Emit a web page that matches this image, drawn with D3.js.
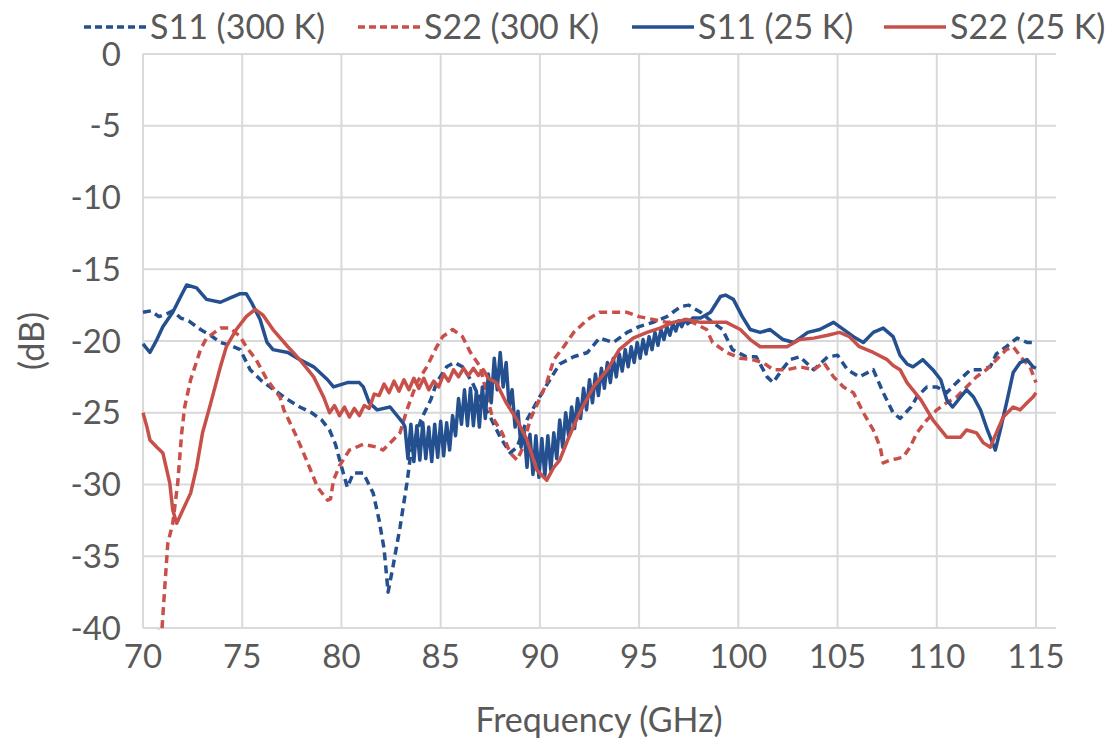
<!DOCTYPE html>
<html>
<head>
<meta charset="utf-8">
<script src="https://cdn.jsdelivr.net/npm/d3@7"></script>
<style>
  body { margin: 0; background: #fff; }
  svg text { font-family: Lato, "Open Sans", sans-serif; fill: #595959; }
</style>
</head>
<body>
<svg width="1110" height="747"></svg>
<script>
// ticks
var xTicks = [70, 75, 80, 85, 90, 95, 100, 105, 110, 115];
var yTicks = [0, -5, -10, -15, -20, -25, -30, -35, -40];

// series names
var seriesNames = ["S11 (300 K)", "S22 (300 K)", "S11 (25 K)", "S22 (25 K)"];

// [frequency GHz, dB]
var s11_300 = [[70,-18.0],[70.4,-17.9],[70.8,-18.3],[71.2,-18.1],[71.5,-17.9],[71.9,-18.4],[72.3,-18.6],[72.6,-18.9],
  [72.9,-19.2],[73.4,-19.6],[73.9,-20.1],[74.4,-20.3],[74.9,-20.6],[75.4,-22.0],[76.0,-22.8],[76.6,-23.4],
  [77.2,-24.0],[77.9,-24.6],[78.5,-25.0],[79.0,-25.5],[79.4,-26.2],[79.7,-27.2],[79.95,-28.5],[80.3,-30.2],
  [80.6,-29.2],[81.1,-29.2],[81.6,-30.6],[81.9,-32.5],[82.15,-34.5],[82.35,-37.5],[82.6,-35.7],[82.95,-33.0],
  [83.3,-29.9],[83.5,-27.8],[84.0,-25.5],[84.5,-24.1],[84.8,-22.9],[85.3,-21.8],[85.7,-21.5],[86.1,-21.8],
  [86.6,-22.9],[87.0,-24.1],[87.5,-25.3],[88.0,-26.7],[88.5,-27.8],[88.85,-27.4],[89.35,-25.5],[89.9,-24.1],
  [90.5,-22.7],[91.0,-21.6],[91.7,-21.1],[92.4,-20.8],[93.0,-19.8],[93.7,-20.1],[94.4,-19.4],[95.0,-19.0],
  [95.7,-18.7],[96.4,-18.3],[97.1,-17.6],[97.5,-17.5],[98.1,-18.0],[98.7,-18.7],[99.2,-19.2],[99.7,-20.6],
  [100.4,-21.1],[100.9,-21.1],[101.45,-22.5],[101.75,-22.9],[102.2,-22.0],[102.6,-21.3],[103.1,-21.1],
  [103.8,-22.0],[104.5,-21.1],[105.0,-21.0],[105.5,-22.0],[106.1,-22.5],[106.8,-22.0],[107.3,-23.6],
  [107.8,-25.0],[108.15,-25.4],[108.7,-24.6],[109.0,-23.9],[109.5,-23.2],[110.0,-23.2],[110.5,-23.6],
  [111.0,-22.9],[111.7,-22.0],[112.2,-22.0],[112.7,-21.8],[113.0,-20.9],[113.5,-20.4],[114.05,-19.8],
  [114.55,-20.1],[115.0,-20.1]];

var s22_300 = [[70,-41],[70.5,-40.3],[70.95,-40.2],[71.1,-37.1],[71.25,-34.1],[71.5,-32.7],[71.75,-29.9],
  [71.95,-26.4],[72.1,-24.6],[72.4,-22.7],[72.9,-20.6],[73.2,-19.8],[73.9,-19.1],[74.4,-19.1],[74.9,-19.7],
  [75.2,-20.4],[75.7,-21.3],[76.25,-22.7],[76.9,-23.9],[77.1,-24.8],[77.75,-26.7],[78.3,-28.5],[78.8,-30.2],
  [79.3,-31.1],[79.45,-31.0],[79.6,-29.7],[79.9,-28.7],[80.4,-27.6],[81.1,-27.2],[81.8,-27.4],[82.1,-27.6],
  [82.6,-26.9],[82.95,-26.4],[83.3,-24.8],[83.8,-22.9],[84.3,-21.8],[84.8,-20.4],[85.1,-19.7],[85.6,-19.2],
  [86.1,-19.7],[86.5,-20.8],[87.0,-21.8],[87.3,-23.6],[87.6,-25.3],[88.1,-26.4],[88.5,-27.8],[88.85,-28.3],
  [89.15,-27.4],[89.5,-25.5],[90.0,-24.0],[90.35,-22.9],[90.7,-21.3],[91.2,-20.4],[91.7,-19.4],[92.4,-18.5],
  [93.0,-18.0],[93.7,-18.0],[94.4,-18.0],[95.0,-18.3],[95.7,-18.5],[96.4,-18.7],[97.1,-18.7],[97.7,-18.7],
  [98.4,-19.2],[98.7,-20.1],[99.4,-20.8],[100.1,-21.2],[100.7,-21.3],[101.25,-21.5],[101.75,-22.0],
  [102.45,-22.0],[103.1,-21.8],[103.8,-22.0],[104.3,-21.5],[104.8,-22.5],[105.3,-23.2],[105.8,-23.6],
  [106.3,-25.0],[106.8,-26.2],[107.15,-27.4],[107.3,-28.5],[107.65,-28.3],[108.0,-28.2],[108.3,-28.1],
  [108.65,-27.4],[109.0,-26.4],[109.5,-25.5],[110.0,-24.8],[110.5,-24.3],[111.0,-23.9],[111.5,-23.2],
  [112.0,-22.5],[112.5,-22.0],[113.0,-21.3],[113.5,-20.6],[113.85,-20.4],[114.35,-21.3],[114.7,-21.8],
  [115.0,-22.9]];

var s11_25 = [[70,-20.2],[70.35,-20.8],[70.7,-19.9],[71.0,-19.0],[71.5,-18.0],[71.9,-16.9],[72.2,-16.1],
  [72.7,-16.3],[73.2,-17.1],[73.9,-17.3],[74.4,-17.0],[74.9,-16.7],[75.2,-16.7],[75.5,-17.4],[75.9,-18.5],
  [76.25,-20.1],[76.55,-20.6],[77.3,-20.8],[77.9,-21.3],[78.6,-21.8],[79.3,-22.7],[79.6,-23.2],[80.3,-22.9],
  [80.9,-22.9],[81.1,-23.2],[81.4,-24.3],[81.8,-24.8],[82.45,-24.6],[83.1,-25.7],
  // ripple section
  [83.2,-26.0],[83.35,-28.2],[83.5,-25.8],[83.65,-28.4],[83.8,-25.9],[83.95,-28.3],[84.1,-25.7],[84.25,-28.2],
  [84.4,-26.0],[84.55,-28.4],[84.7,-25.8],[84.85,-28.1],[85.0,-25.6],[85.15,-28.0],[85.3,-25.7],[85.45,-27.6],
  [85.6,-25.2],[85.75,-26.6],[85.9,-24.0],[86.05,-25.8],[86.2,-23.4],[86.35,-25.9],[86.5,-23.3],[86.65,-25.9],
  [86.8,-23.5],[86.95,-26.0],[87.1,-23.2],[87.25,-25.4],[87.4,-22.3],[87.55,-24.3],[87.7,-21.2],[87.85,-23.4],
  [88.0,-20.8],[88.15,-23.2],[88.3,-21.5],[88.45,-24.6],[88.6,-23.4],[88.75,-26.0],[88.9,-24.9],[89.05,-27.4],
  [89.2,-26.2],[89.35,-28.8],[89.5,-26.5],[89.65,-29.3],[89.8,-26.6],[89.95,-29.5],[90.1,-26.8],[90.25,-29.4],
  [90.4,-26.6],[90.55,-29.0],[90.7,-26.4],[90.85,-28.2],[91.0,-25.5],[91.15,-27.4],[91.3,-25.0],[91.45,-26.6],
  [91.6,-24.6],[91.75,-26.1],[91.9,-24.0],[92.05,-25.4],[92.2,-23.3],[92.35,-24.8],[92.5,-22.7],[92.65,-24.3],
  [92.8,-22.3],[92.95,-23.8],[93.1,-21.9],[93.25,-23.3],[93.4,-21.5],[93.55,-22.9],[93.7,-21.2],[93.85,-22.5],
  [94.0,-20.9],[94.15,-22.1],[94.3,-20.6],[94.45,-21.8],[94.6,-20.4],[94.75,-21.5],[94.9,-20.1],[95.05,-21.2],
  [95.2,-19.9],[95.35,-20.9],[95.5,-19.7],[95.65,-20.6],[95.8,-19.4],[95.95,-20.3],[96.1,-19.2],[96.25,-19.9],
  [96.4,-19.0],[96.55,-19.6],[96.7,-18.8],[96.85,-19.3],[97.0,-18.6],[97.15,-19.0],[97.3,-18.5],[97.45,-18.8],
  [97.7,-18.4],[98.1,-18.4],[98.6,-18.0],[99.1,-16.9],[99.35,-16.8],[99.75,-17.1],[100.2,-18.3],[100.6,-19.2],
  [101.1,-19.4],[101.6,-19.2],[102.25,-19.9],[102.8,-20.1],[103.5,-19.4],[104.1,-19.2],[104.8,-18.7],
  [105.1,-19.0],[105.8,-19.7],[106.3,-20.1],[106.8,-19.4],[107.3,-19.1],[107.8,-19.7],[108.15,-21.0],
  [108.5,-21.6],[108.8,-21.8],[109.3,-21.3],[109.8,-22.0],[110.2,-22.7],[110.5,-24.1],[110.8,-24.6],
  [111.2,-23.9],[111.5,-23.4],[111.85,-23.9],[112.2,-24.8],[112.55,-26.2],[112.95,-27.6],[113.2,-26.2],
  [113.55,-24.1],[113.85,-22.2],[114.2,-21.5],[114.55,-21.3],[114.85,-21.8],[115.0,-21.9]];

var s22_25 = [[70,-25.0],[70.2,-26.0],[70.35,-26.9],[70.7,-27.4],[71.0,-27.8],[71.35,-29.9],[71.5,-31.8],
  [71.7,-32.7],[72.0,-31.8],[72.4,-30.6],[72.7,-28.8],[73.0,-26.4],[73.4,-24.4],[73.9,-21.8],[74.2,-20.4],
  [74.7,-19.2],[75.2,-18.3],[75.65,-17.8],[76.05,-18.2],[76.55,-19.2],[77.3,-20.4],[77.9,-21.3],[78.6,-22.5],
  [79.1,-23.9],[79.4,-25.0],[79.65,-24.5],[79.9,-25.2],[80.15,-24.6],[80.4,-25.3],[80.65,-24.7],[80.9,-25.2],
  [81.15,-24.5],[81.4,-24.7],[81.65,-23.7],[81.9,-23.8],[82.15,-23.0],[82.4,-23.6],[82.65,-22.8],[82.9,-23.5],
  [83.15,-22.7],[83.4,-23.4],[83.65,-22.6],[83.9,-23.3],[84.15,-22.6],[84.4,-23.4],[84.65,-22.8],[84.9,-23.2],
  [85.15,-22.3],[85.4,-22.8],[85.65,-22.0],[85.9,-22.5],[86.15,-21.9],[86.4,-22.4],[86.65,-21.9],[86.9,-22.4],
  [87.15,-22.0],[87.4,-22.6],[87.8,-22.9],[88.3,-24.3],[88.85,-25.5],[89.35,-26.9],[89.85,-29.0],[90.35,-29.7],
  [90.7,-28.8],[91.0,-28.3],[91.4,-26.9],[92.0,-25.0],[92.7,-23.2],[93.4,-22.0],[94.0,-20.6],[94.7,-19.8],
  [95.4,-19.4],[96.05,-19.1],[96.7,-18.7],[97.4,-18.5],[98.1,-18.7],[98.7,-18.7],[99.4,-18.7],[100.1,-19.2],
  [100.6,-19.9],[101.1,-20.4],[101.75,-20.4],[102.45,-20.4],[103.1,-19.9],[103.8,-19.8],[104.5,-19.6],
  [105.1,-19.4],[105.6,-19.7],[106.1,-20.4],[106.8,-20.8],[107.5,-21.3],[107.8,-21.7],[108.15,-22.0],
  [108.5,-22.9],[109.2,-24.1],[109.8,-25.5],[110.5,-26.7],[111.2,-26.7],[111.5,-26.2],[112.0,-26.4],
  [112.35,-27.1],[112.7,-27.4],[113.0,-26.4],[113.35,-25.3],[113.85,-24.6],[114.2,-24.8],[114.55,-24.3],
  [114.85,-23.9],[115.0,-23.6]];

var blue = "#24508f", red = "#c8504a";

var series = [
  {name: seriesNames[0], data: s11_300, color: blue, dash: "8,5"},
  {name: seriesNames[1], data: s22_300, color: red, dash: "8,5"},
  {name: seriesNames[2], data: s11_25, color: blue, dash: null},
  {name: seriesNames[3], data: s22_25, color: red, dash: null}
];

var svg = d3.select("svg");
var plotLeft = 143, plotRight = 1056, plotTop = 54, plotBottom = 628;

var x = d3.scaleLinear().domain([70, 115]).range([143, 1036]);
var y = d3.scaleLinear().domain([-40, 0]).range([plotBottom, plotTop]);

// gridlines
svg.append("g")
  .selectAll("line")
  .data(yTicks)
  .enter().append("line")
    .attr("x1", plotLeft).attr("x2", plotRight)
    .attr("y1", function(d) { return y(d); })
    .attr("y2", function(d) { return y(d); })
    .attr("stroke", "#d9d9d9").attr("stroke-width", 2);

svg.append("g")
  .selectAll("line")
  .data(xTicks)
  .enter().append("line")
    .attr("x1", function(d) { return x(d); })
    .attr("x2", function(d) { return x(d); })
    .attr("y1", plotTop).attr("y2", plotBottom)
    .attr("stroke", "#d9d9d9").attr("stroke-width", 2);

// tick labels
svg.append("g")
  .selectAll("text")
  .data(yTicks)
  .enter().append("text")
    .attr("x", 121)
    .attr("y", function(d) { return y(d); })
    .attr("dy", "0.35em")
    .attr("text-anchor", "end")
    .attr("font-size", 33)
    .text(function(d) { return d; });

svg.append("g")
  .selectAll("text")
  .data(xTicks)
  .enter().append("text")
    .attr("x", function(d) { return x(d); })
    .attr("y", 656)
    .attr("dy", "0.35em")
    .attr("text-anchor", "middle")
    .attr("font-size", 33)
    .text(function(d) { return d; });

svg.append("text")
  .attr("x", 599).attr("y", 720)
  .attr("dy", "0.35em")
  .attr("text-anchor", "middle")
  .attr("font-size", 34)
  .text("Frequency (GHz)");

svg.append("text")
  .attr("transform", "translate(32,341) rotate(-90)")
  .attr("dy", "0.35em")
  .attr("text-anchor", "middle")
  .attr("font-size", 34)
  .text("(dB)");

// lines
svg.append("defs").append("clipPath").attr("id", "plotclip")
  .append("rect")
    .attr("x", plotLeft - 2).attr("y", plotTop - 4)
    .attr("width", plotRight - plotLeft + 4).attr("height", plotBottom - plotTop + 6);

var line = d3.line()
  .x(function(d) { return x(d[0]); })
  .y(function(d) { return y(d[1]); });

svg.append("g")
  .attr("clip-path", "url(#plotclip)")
  .selectAll("path")
  .data(series)
  .enter().append("path")
    .attr("d", function(d) { return line(d.data); })
    .attr("fill", "none")
    .attr("stroke", function(d) { return d.color; })
    .attr("stroke-width", 3.5)
    .attr("stroke-linejoin", "round")
    .attr("stroke-dasharray", function(d) { return d.dash; });

// legend
var legendX = [84, 358, 632, 884];
var legend = svg.append("g")
  .selectAll("g")
  .data(series)
  .enter().append("g")
    .attr("transform", function(d, i) { return "translate(" + legendX[i] + ",27)"; });

legend.append("line")
  .attr("x1", 0).attr("x2", 62)
  .attr("stroke", function(d) { return d.color; })
  .attr("stroke-width", 3.5)
  .attr("stroke-dasharray", function(d) { return d.dash ? "7,4" : null; });

legend.append("text")
  .attr("x", 66)
  .attr("dy", "0.35em")
  .attr("font-size", 34)
  .text(function(d) { return d.name; });
</script>
</body>
</html>
